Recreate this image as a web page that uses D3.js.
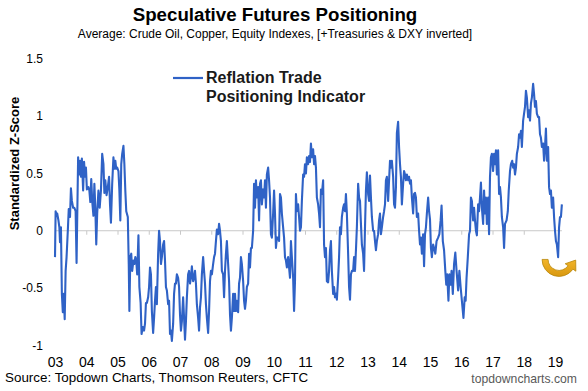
<!DOCTYPE html>
<html>
<head>
<meta charset="utf-8">
<script src="https://cdn.jsdelivr.net/npm/d3@7"></script>
<style>
  html, body { margin: 0; padding: 0; background: #fff; }
  svg { display: block; font-family: "Liberation Sans", Arial, sans-serif; }
</style>
</head>
<body>
<svg id="chart" width="588" height="391"></svg>
<script>
// ---------------- DATA ----------------
const titleText = "Speculative Futures Positioning";
const subtitleText = "Average: Crude Oil, Copper, Equity Indexes, [+Treasuries & DXY inverted]";
const seriesName = ["Reflation Trade", "Positioning Indicator"];
const yAxisTitle = "Standardized Z-Score";
const sourceText = "Source: Topdown Charts, Thomson Reuters, CFTC";
const siteText = "topdowncharts.com";

const yearTicks = [2003,2004,2005,2006,2007,2008,2009,2010,2011,2012,2013,2014,2015,2016,2017,2018,2019];
const yearLabels = ["03","04","05","06","07","08","09","10","11","12","13","14","15","16","17","18","19"];
const yTicks = [-1, -0.5, 0, 0.5, 1, 1.5];
const yTickLabels = ["-1", "-0.5", "0", "0.5", "1", "1.5"];

// decimal-year dates of the weekly-ish readings
const dates = [
2003.00,2003.02,2003.05,2003.07,2003.11,2003.14,2003.16,2003.19,2003.22,2003.25,2003.28,2003.31,2003.34,2003.37,2003.41,2003.44,2003.48,2003.51,2003.54,2003.58,2003.62,2003.66,2003.69,2003.74,2003.77,2003.80,2003.83,2003.86,2003.90,2003.93,2003.96,2003.99,
2004.02,2004.07,2004.10,2004.13,2004.16,2004.19,2004.23,2004.26,2004.29,2004.32,2004.35,2004.39,2004.43,2004.47,2004.51,2004.55,2004.58,2004.61,2004.65,2004.69,2004.73,2004.76,2004.79,2004.83,2004.87,2004.90,2004.93,2004.96,2004.99,
2005.03,2005.06,2005.09,2005.12,2005.15,2005.19,2005.22,2005.25,2005.28,2005.33,2005.36,2005.38,2005.41,2005.44,2005.47,2005.51,2005.54,2005.57,2005.60,2005.63,2005.67,2005.70,2005.74,2005.77,2005.81,2005.85,2005.88,2005.91,2005.94,2005.98,
2006.01,2006.04,2006.07,2006.10,2006.14,2006.17,2006.20,2006.23,2006.26,2006.30,2006.33,2006.36,2006.39,2006.42,2006.46,2006.49,2006.52,2006.55,2006.58,2006.62,2006.65,2006.68,2006.71,2006.74,2006.78,2006.81,2006.84,2006.87,2006.90,2006.94,2006.97,
2007.00,2007.03,2007.06,2007.10,2007.13,2007.16,2007.19,2007.22,2007.26,2007.29,2007.32,2007.35,2007.38,2007.42,2007.45,2007.48,2007.51,2007.54,2007.58,2007.61,2007.64,2007.67,2007.70,2007.74,2007.77,2007.80,2007.83,2007.86,2007.90,2007.93,2007.96,2007.99,
2008.02,2008.06,2008.09,2008.12,2008.15,2008.18,2008.22,2008.25,2008.28,2008.31,2008.34,2008.38,2008.41,2008.44,2008.47,2008.50,2008.54,2008.57,2008.60,2008.63,2008.66,2008.70,2008.73,2008.76,2008.79,2008.82,2008.86,2008.89,2008.92,2008.95,2008.98,
2009.02,2009.05,2009.08,2009.11,2009.14,2009.18,2009.21,2009.24,2009.27,2009.30,2009.34,2009.37,2009.40,2009.43,2009.46,2009.50,2009.53,2009.56,2009.59,2009.62,2009.66,2009.69,2009.72,2009.75,2009.78,2009.82,2009.85,2009.88,2009.91,2009.94,2009.98,
2010.01,2010.04,2010.07,2010.10,2010.14,2010.17,2010.20,2010.23,2010.26,2010.30,2010.33,2010.36,2010.39,2010.42,2010.46,2010.49,2010.52,2010.55,2010.58,2010.62,2010.65,2010.68,2010.71,2010.74,2010.78,2010.81,2010.84,2010.87,2010.90,2010.94,2010.97,
2011.00,2011.03,2011.06,2011.10,2011.13,2011.16,2011.19,2011.22,2011.26,2011.29,2011.32,2011.35,2011.38,2011.42,2011.45,2011.48,2011.51,2011.54,2011.58,2011.61,2011.64,2011.67,2011.70,2011.74,2011.77,2011.80,2011.83,2011.86,2011.90,2011.93,2011.96,2011.99,
2012.02,2012.06,2012.09,2012.12,2012.15,2012.18,2012.22,2012.25,2012.28,2012.31,2012.34,2012.38,2012.41,2012.44,2012.47,2012.50,2012.54,2012.57,2012.60,2012.63,2012.66,2012.70,2012.73,2012.76,2012.79,2012.82,2012.86,2012.89,2012.92,2012.95,2012.98,
2013.02,2013.05,2013.08,2013.11,2013.14,2013.18,2013.21,2013.24,2013.27,2013.30,2013.34,2013.37,2013.40,2013.43,2013.46,2013.50,2013.53,2013.56,2013.59,2013.62,2013.66,2013.69,2013.72,2013.75,2013.78,2013.82,2013.85,2013.88,2013.91,2013.94,2013.98,
2014.01,2014.04,2014.07,2014.10,2014.14,2014.17,2014.20,2014.23,2014.26,2014.30,2014.33,2014.36,2014.39,2014.42,2014.46,2014.49,2014.52,2014.55,2014.58,2014.62,2014.65,2014.68,2014.71,2014.74,2014.78,2014.81,2014.84,2014.87,2014.90,2014.94,2014.97,
2015.00,2015.03,2015.06,2015.10,2015.13,2015.17,2015.21,2015.26,2015.30,2015.34,2015.37,2015.41,2015.45,2015.49,2015.52,2015.55,2015.59,2015.62,2015.66,2015.69,2015.73,2015.77,2015.81,2015.85,2015.90,2015.94,2015.98,
2016.02,2016.07,2016.11,2016.14,2016.17,2016.21,2016.25,2016.28,2016.31,2016.34,2016.38,2016.41,2016.44,2016.47,2016.50,2016.54,2016.57,2016.60,2016.63,2016.66,2016.70,2016.73,2016.76,2016.79,2016.82,2016.86,2016.89,2016.92,2016.95,2016.98,
2017.02,2017.05,2017.08,2017.11,2017.14,2017.18,2017.21,2017.24,2017.27,2017.30,2017.34,2017.37,2017.40,2017.45,2017.49,2017.52,2017.56,2017.59,2017.63,2017.66,2017.69,2017.72,2017.75,2017.78,2017.82,2017.85,2017.88,2017.91,2017.94,2017.98,
2018.01,2018.04,2018.07,2018.10,2018.14,2018.17,2018.20,2018.23,2018.26,2018.30,2018.33,2018.36,2018.39,2018.42,2018.46,2018.49,2018.52,2018.55,2018.58,2018.62,2018.65,2018.68,2018.71,2018.74,2018.78,2018.81,2018.84,2018.87,2018.90,2018.94,2018.97,
2019.00,2019.03,2019.06,2019.10,2019.13,2019.16,2019.19,2019.22
];

const values = [
-0.23,0.17,0.13,0.15,0.09,0.03,-0.10,0.03,-0.55,-0.71,-0.55,-0.77,-0.35,-0.23,0.00,0.19,0.12,0.37,0.26,0.20,0.20,0.17,-0.28,0.64,0.49,0.61,0.47,0.63,0.35,0.60,0.47,0.55,
0.36,0.38,0.35,0.25,0.45,0.26,0.13,0.41,0.20,-0.12,0.15,0.35,0.20,0.35,0.67,0.58,0.33,0.44,0.31,0.38,0.47,0.23,0.07,0.41,0.64,0.54,0.61,0.54,0.55,
0.52,0.35,0.09,0.58,0.67,0.74,0.58,0.35,0.17,0.12,-0.29,-0.70,-0.23,-0.20,-0.35,-0.26,-0.29,-0.23,-0.26,-0.38,-0.04,-0.49,-0.63,-0.90,-0.84,-0.87,-0.81,-0.63,-0.63,-0.58,
-0.49,-0.32,-0.38,-0.70,-0.89,-0.76,-0.61,-0.49,-0.64,-0.20,0.00,-0.09,-0.29,-0.23,-0.12,-0.09,-0.26,-0.49,-0.52,-0.64,-0.61,-0.90,-0.87,-0.96,-0.81,-0.55,-0.46,-0.46,-0.38,-0.41,-0.49,
-0.73,-0.87,-0.79,-0.58,-0.76,-0.95,-0.79,-0.58,-0.38,-0.35,-0.46,-0.41,-0.31,-0.44,-0.41,-0.35,-0.46,-0.64,-0.76,-0.87,-0.67,-0.58,-0.38,-0.23,-0.35,-0.46,-0.64,-0.76,-0.89,-0.70,-0.44,-0.35,
-0.38,-0.29,-0.23,-0.20,-0.09,0.01,-0.03,0.06,0.00,-0.09,-0.35,-0.38,-0.58,-0.35,-0.20,-0.09,-0.29,-0.44,-0.73,-0.87,-0.76,-0.55,-0.70,-0.55,-0.70,-0.61,-0.71,-0.46,-0.41,-0.23,-0.29,
-0.44,-0.61,-0.68,-0.61,-0.49,-0.46,-0.20,-0.32,-0.15,-0.15,0.00,0.41,0.20,0.44,0.29,0.38,0.09,0.41,0.44,0.23,0.36,0.29,0.44,0.20,0.49,0.55,0.44,0.29,-0.03,-0.06,0.15,
0.35,0.15,-0.15,-0.06,-0.06,-0.09,0.32,0.29,0.15,0.03,-0.06,-0.23,-0.26,-0.32,-0.23,-0.32,-0.41,-0.09,-0.23,-0.41,-0.70,-0.44,0.32,0.17,0.23,0.12,0.00,0.03,0.26,0.49,0.47,
0.58,0.50,0.64,0.58,0.65,0.60,0.76,0.64,0.71,0.58,0.65,0.55,0.29,0.23,0.15,0.03,0.36,0.32,0.44,-0.12,-0.23,-0.15,-0.44,-0.45,-0.35,-0.17,-0.09,-0.35,-0.55,-0.49,-0.58,-0.55,
-0.60,-0.41,-0.23,0.03,-0.03,0.12,0.20,0.23,0.17,0.32,0.15,-0.20,-0.49,-0.60,-0.38,-0.35,-0.35,-0.23,-0.35,-0.17,0.03,0.41,0.29,0.26,0.06,-0.12,-0.20,-0.35,0.03,0.35,0.51,
0.32,0.26,0.48,0.29,0.12,0.00,0.00,-0.09,-0.17,-0.09,-0.03,0.09,0.15,-0.03,0.03,0.12,0.17,0.23,0.44,0.47,0.26,0.44,0.61,0.55,0.61,0.47,0.23,0.20,0.38,0.85,0.95,
0.73,0.58,0.47,0.23,0.41,0.52,0.49,0.44,0.49,0.44,0.47,0.41,0.44,0.29,0.15,0.32,0.33,0.29,0.12,0.15,0.00,-0.12,-0.06,-0.20,-0.03,-0.31,-0.03,0.03,0.15,0.29,0.17,
0.10,-0.15,-0.23,-0.12,-0.15,-0.20,-0.09,-0.06,-0.03,0.09,0.22,-0.09,-0.17,-0.35,-0.47,-0.38,-0.61,-0.38,-0.47,-0.35,-0.55,-0.29,-0.19,-0.35,-0.52,-0.35,-0.49,
-0.61,-0.76,-0.58,-0.61,-0.41,-0.23,-0.03,0.00,0.29,0.26,0.09,0.20,0.09,0.00,-0.04,0.23,0.17,0.29,0.42,0.20,0.06,0.35,0.15,0.29,0.06,0.29,-0.03,0.47,0.64,0.67,
0.52,0.67,0.58,0.70,0.49,0.70,0.32,0.38,0.29,0.12,0.03,-0.15,0.06,0.09,0.17,0.35,0.52,0.58,0.61,0.55,0.58,0.49,0.55,0.67,0.73,0.84,0.81,0.87,0.73,0.96,
1.02,1.08,1.22,1.16,0.99,1.05,0.96,1.11,1.16,1.28,1.19,1.08,1.13,1.02,0.99,0.99,0.84,0.81,0.73,0.76,0.61,0.73,0.89,0.61,0.73,0.38,0.32,0.35,0.20,0.29,0.12,
0.00,-0.09,-0.12,-0.23,0.03,0.12,0.12,0.23
];

// ---------------- STYLE ----------------
const lineColor = "#2F62C6";
const font = '"Liberation Sans", Arial, sans-serif';

const svg = d3.select("#chart");
svg.append("rect").attr("width", 588).attr("height", 391).attr("fill", "#fff");

const x = d3.scaleLinear().domain([2003, 2019]).range([55, 555]);
const y = d3.scaleLinear().domain([-1, 1.5]).range([345.5, 58.6]);

const data = dates.map((d, i) => ({ t: d, v: values[i] }));

// Titles
svg.append("text").attr("x", 275).attr("y", 21).attr("text-anchor", "middle")
  .attr("font-size", 18.7).attr("font-weight", "bold").attr("fill", "#000").text(titleText);
svg.append("text").attr("x", 275).attr("y", 38).attr("text-anchor", "middle")
  .attr("font-size", 12).attr("fill", "#000").text(subtitleText);

// Y axis labels
const yAxis = d3.axisLeft(y).tickValues(yTicks).tickSize(0).tickPadding(3)
  .tickFormat((d, i) => yTickLabels[i]);
const gy = svg.append("g").attr("transform", "translate(46,0)").call(yAxis);
gy.select(".domain").remove();
gy.selectAll("text").attr("font-size", 12).attr("font-family", font).attr("fill", "#000");

// Y axis title
svg.append("text").attr("transform", "translate(18.5,163.5) rotate(-90)")
  .attr("text-anchor", "middle").attr("font-size", 13).attr("font-weight", "bold")
  .attr("fill", "#000").text(yAxisTitle);

// Zero axis line with ticks
const lastT = dates[dates.length - 1];
const gx = svg.append("g").attr("transform", `translate(0,${y(0)})`)
  .call(d3.axisBottom(x).tickValues(yearTicks).tickSize(4).tickFormat(""));
gx.select(".domain").remove();
gx.selectAll(".tick line").attr("stroke", "#c8c8c8");
gx.append("line").attr("x1", x(2003)).attr("x2", x(lastT)).attr("y1", 0).attr("y2", 0)
  .attr("stroke", "#c8c8c8").attr("stroke-width", 1);

// X labels at bottom
const gxl = svg.append("g").attr("transform", "translate(0,354)")
  .call(d3.axisBottom(x).tickValues(yearTicks).tickSize(0).tickPadding(3)
    .tickFormat((d, i) => yearLabels[i]));
gxl.select(".domain").remove();
gxl.selectAll("text").attr("font-size", 14).attr("font-family", font).attr("fill", "#000");

// Series line
const line = d3.line().x(d => x(d.t)).y(d => y(d.v));
svg.append("path").datum(data).attr("d", line).attr("fill", "none")
  .attr("stroke", lineColor).attr("stroke-width", 2.1).attr("stroke-linejoin", "round");

// Legend
svg.append("line").attr("x1", 173).attr("x2", 203).attr("y1", 78).attr("y2", 78)
  .attr("stroke", lineColor).attr("stroke-width", 2.2);
svg.append("text").attr("x", 206).attr("y", 83).attr("font-size", 16).attr("font-weight", "bold")
  .attr("fill", "#1a1a1a").text(seriesName[0]);
svg.append("text").attr("x", 206).attr("y", 102).attr("font-size", 16).attr("font-weight", "bold")
  .attr("fill", "#1a1a1a").text(seriesName[1]);

// U-turn arrow annotation near the latest trough
(function () {
  const cx = x(2019.13), cy = y(-0.25);
  const R = 17, r = 11, a = 35 * Math.PI / 180;
  const pt = (rad, ang) => [cx + rad * Math.cos(ang), cy + rad * Math.sin(ang)];
  const o0 = pt(R, Math.PI), o1 = pt(R, a);
  const i1 = pt(r, a), i0 = pt(r, Math.PI);
  const hOut = pt(R + 3.5, a), hIn = pt(r - 3.5, a);
  const mid = pt((R + r) / 2, a);
  const tan = [Math.sin(a), -Math.cos(a)];
  const tip = [mid[0] + 9 * tan[0], mid[1] + 9 * tan[1]];
  const p = `M${o0} A${R},${R} 0 0,0 ${o1} L${hOut} L${tip} L${hIn} L${i1} A${r},${r} 0 0,1 ${i0} Z`;
  const defs = svg.append("defs");
  const g = defs.append("linearGradient").attr("id", "arrowGrad").attr("x1", 0).attr("y1", 0).attr("x2", 0).attr("y2", 1);
  g.append("stop").attr("offset", "0%").attr("stop-color", "#F2B52A");
  g.append("stop").attr("offset", "100%").attr("stop-color", "#D9980F");
  svg.append("path").attr("d", p).attr("fill", "url(#arrowGrad)").attr("stroke", "#B8860B").attr("stroke-width", 0.8);
})();

// Footer
svg.append("text").attr("x", 5).attr("y", 382).attr("font-size", 13.4).attr("fill", "#000").text(sourceText);
svg.append("text").attr("x", 577).attr("y", 383).attr("text-anchor", "end").attr("font-size", 12.2)
  .attr("fill", "#595959").text(siteText);
</script>
</body>
</html>
